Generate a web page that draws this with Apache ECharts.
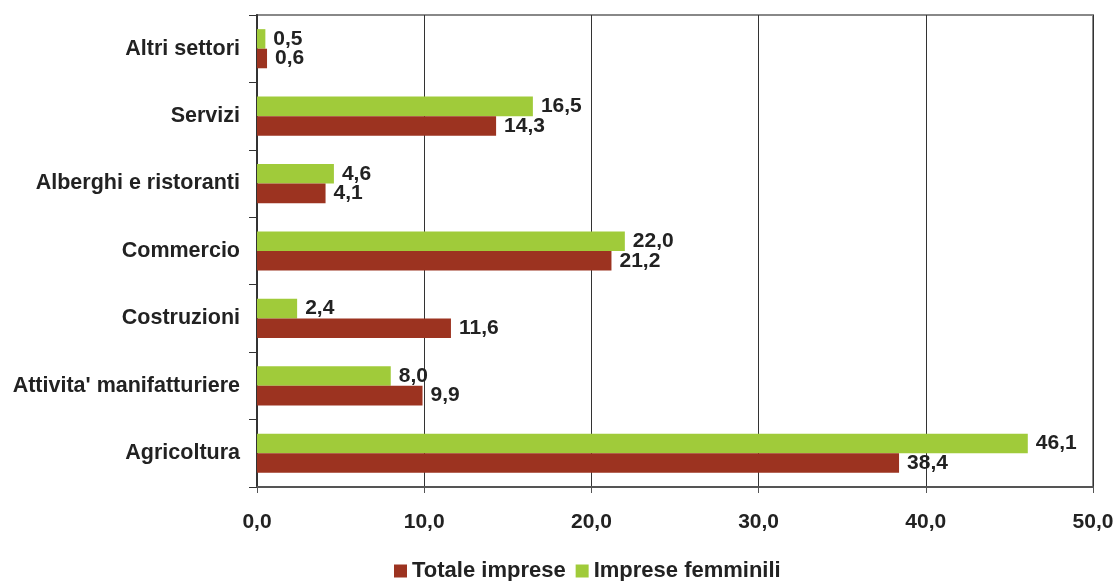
<!DOCTYPE html>
<html>
<head>
<meta charset="utf-8">
<script src="https://cdn.jsdelivr.net/npm/echarts@6/dist/echarts.min.js"></script>
<style>
  html, body { margin: 0; padding: 0; background: #fff; }
  #chart { width: 1117px; height: 581px; }
</style>
</head>
<body>
<div id="chart"></div>
<script>
// categories listed bottom to top
const categories = ['Agricoltura', "Attivita' manifatturiere", 'Costruzioni', 'Commercio', 'Alberghi e ristoranti', 'Servizi', 'Altri settori']
const totaleImprese = [38.4, 9.9, 11.6, 21.2, 4.1, 14.3, 0.6]
const impreseFemminili = [46.1, 8.0, 2.4, 22.0, 4.6, 16.5, 0.5]

const fmt = (v) => v.toFixed(1).replace('.', ',')
const font = 'Liberation Sans, Arial, sans-serif'

const chart = echarts.init(document.getElementById('chart'))

const labelStyle = {
  show: true,
  position: 'right',
  distance: 8,
  fontFamily: font,
  fontWeight: 'bold',
  fontSize: 21,
  color: '#222',
  formatter: (p) => fmt(p.value)
}

chart.setOption({
  animation: false,
  textStyle: { fontFamily: font },
  grid: {
    left: 257,
    top: 15,
    width: 836,
    height: 472,
    show: true,
    borderColor: '#888',
    borderWidth: 2,
    backgroundColor: 'transparent'
  },
  legend: {
    top: 555,
    left: 389,
    itemWidth: 13,
    itemHeight: 13,
    itemGap: 10,
    icon: 'rect',
    textStyle: { fontFamily: font, fontWeight: 'bold', fontSize: 22, color: '#222' },
    data: ['Totale imprese', 'Imprese femminili']
  },
  xAxis: {
    type: 'value',
    min: 0,
    max: 50,
    interval: 10,
    axisLine: { show: true, lineStyle: { color: '#555', width: 2 } },
    axisTick: { show: true, length: 6, lineStyle: { color: '#555' } },
    axisLabel: {
      margin: 25,
      fontFamily: font,
      fontWeight: 'bold',
      fontSize: 21,
      color: '#222',
      formatter: (v) => fmt(v)
    },
    splitLine: { show: true, lineStyle: { color: '#333', width: 1 } }
  },
  yAxis: {
    type: 'category',
    data: categories,
    axisLine: { show: true, lineStyle: { color: '#333', width: 2 } },
    axisTick: { show: true, length: 8, lineStyle: { color: '#333' } },
    axisLabel: {
      margin: 17,
      fontFamily: font,
      fontWeight: 'bold',
      fontSize: 21.5,
      color: '#222'
    }
  },
  // the first series is drawn at the top of each band
  series: [
    {
      name: 'Imprese femminili',
      type: 'bar',
      data: impreseFemminili,
      barGap: '0%',
      barCategoryGap: '42%',
      itemStyle: { color: '#A0CB3A' },
      label: labelStyle
    },
    {
      name: 'Totale imprese',
      type: 'bar',
      data: totaleImprese,
      barGap: '0%',
      barCategoryGap: '42%',
      itemStyle: { color: '#9C3320' },
      label: labelStyle
    }
  ]
})
</script>
</body>
</html>
